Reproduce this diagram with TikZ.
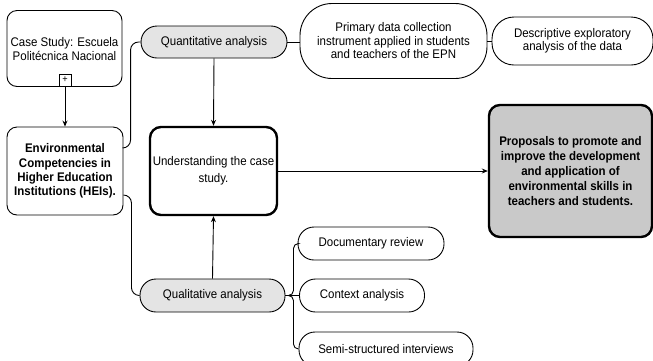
\documentclass[tikz,border=0pt]{standalone}
\usepackage{fontspec}
\setmainfont[FakeStretch=0.92]{Liberation Sans}
\usetikzlibrary{arrows.meta,calc}
\definecolor{lightfill}{HTML}{E4E4E4}
\definecolor{darkfill}{HTML}{C9C9C9}
\begin{document}
\begin{tikzpicture}[x=1pt,y=-1pt,
  every node/.style={font=\fontsize{12.5}{13.5}\selectfont,align=center,inner sep=0pt},
  box/.style={draw,line width=0.9pt,rounded corners=10pt},
  pill/.style={draw,line width=0.9pt,rounded corners=16pt},
  thickbox/.style={draw,line width=2.4pt,rounded corners=11pt},
  conn/.style={line width=0.9pt},
  arr/.style={line width=0.9pt,-{Stealth[length=6pt,width=5pt]}}]
\clip (0,0) rectangle (653,360);
\fill[white] (0,0) rectangle (653,360);
% nodes
\node[box,minimum width=115pt,minimum height=76pt] (case) at (64.5,48.5) {};
\node (casetxt) at (64.5,49) {Case Study: Escuela\\Politécnica Nacional};
\node[draw,line width=0.7pt,minimum width=12pt,minimum height=12pt,fill=white,font=\fontsize{10}{10}\selectfont] (plus) at (65,80) {+};
\node[box,minimum width=116pt,minimum height=88pt,font=\bfseries\fontsize{12.5}{14.3}\selectfont] (env) at (65,171) {Environmental\\Competencies in\\Higher Education\\Institutions (HEIs).};
\node[pill,fill=lightfill,minimum width=146pt,minimum height=32pt] (quant) at (214,42) {Quantitative analysis};
\node[draw,line width=0.9pt,rounded corners=32pt,minimum width=187pt,minimum height=75pt] (prim) at (393.5,41) {Primary data collection\\instrument applied in students\\and teachers of the EPN};
\node[draw,line width=0.9pt,rounded corners=22pt,minimum width=161pt,minimum height=48pt] (desc) at (572.5,41) {Descriptive exploratory\\analysis of the data};
\node[thickbox,minimum width=127pt,minimum height=88pt,font=\fontsize{12.5}{16.5}\selectfont] (under) at (213.5,171) {Understanding the case\\study.};
\node[thickbox,fill=darkfill,minimum width=163pt,minimum height=132pt,font=\bfseries\fontsize{12.5}{15}\selectfont] (prop) at (570.5,171) {Proposals to promote and\\improve the development\\and application of\\environmental skills in\\teachers and students.};
\node[pill,fill=lightfill,minimum width=145pt,minimum height=33pt] (qual) at (212.5,295.5) {Qualitative analysis};
\node[pill,minimum width=146pt,minimum height=33pt] (doc) at (371,243.5) {Documentary review};
\node[pill,minimum width=125pt,minimum height=33pt] (ctx) at (362,295.5) {Context analysis};
\node[pill,minimum width=174pt,minimum height=34pt] (semi) at (386,349) {Semi-structured interviews};
% connectors
\draw[arr] (plus.south) -- (env.north);
\draw[conn,rounded corners=8pt] (quant.west) -- ++(-10,0) |- ($(env.east)+(0,-23)$);
\draw[conn,rounded corners=8pt] ($(env.east)+(0,24)$) -- ++(8,0) |- (qual.west);
\draw[arr] (quant.south) -- (under.north);
\draw[arr] (qual.north) -- (under.south);
\draw[conn] (quant.east) -- (quant.east -| prim.west);
\draw[conn] (prim.east) -- (desc.west);
\draw[arr] (under.east) -- (prop.west);
\draw[conn,rounded corners=5pt] (qual.east) -- ++(8,0) |- (doc.west);
\draw[conn] (qual.east) -- (ctx.west);
\draw[conn,rounded corners=5pt] (qual.east) -- ++(8,0) |- (semi.west);
\end{tikzpicture}
\end{document}
